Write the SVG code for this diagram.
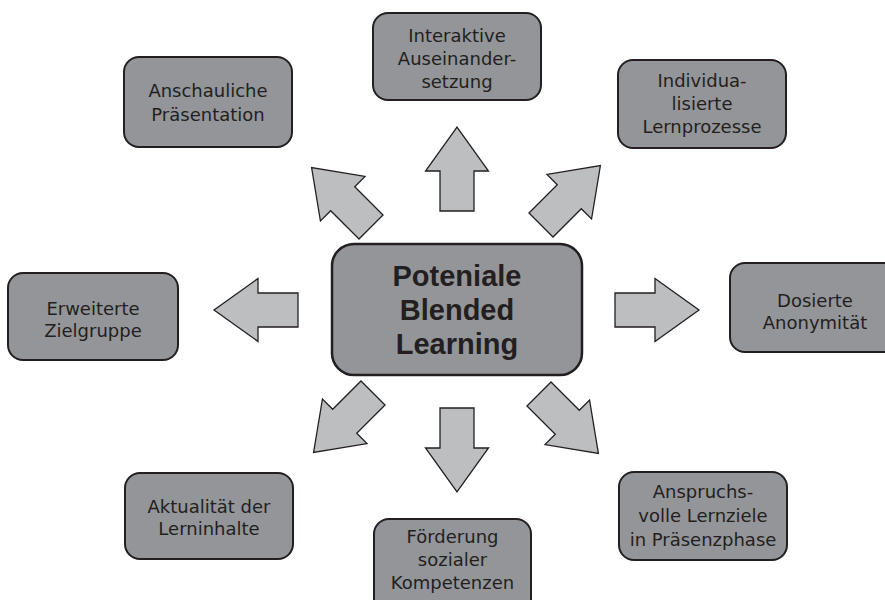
<svg xmlns="http://www.w3.org/2000/svg" width="885" height="600" viewBox="0 0 885 600">
<defs>
<style>
.box{fill:#939598;stroke:#231f20;stroke-width:2}
.arr{fill:#bcbec0;stroke:#231f20;stroke-width:1.3;stroke-linejoin:miter}
.t{font-family:"DejaVu Sans","Liberation Sans",sans-serif;font-size:18px;fill:#231f20;text-anchor:middle}
.c{font-family:"Liberation Sans",Arial,sans-serif;font-weight:bold;font-size:29px;fill:#231f20;text-anchor:middle}
</style>
<polygon id="a" points="0,-17 40,-17 40,-31.5 84,0 40,31.5 40,17 0,17"/>
</defs>
<rect width="885" height="600" fill="#ffffff"/>
<g id="connectors">
<use href="#a" class="arr" transform="translate(457,211) rotate(-90)"/>
<use href="#a" class="arr" transform="translate(457,408) rotate(90)"/>
<use href="#a" class="arr" transform="translate(298,310) rotate(180)"/>
<use href="#a" class="arr" transform="translate(615,310)"/>
<use href="#a" class="arr" transform="translate(371,227) rotate(-135)"/>
<use href="#a" class="arr" transform="translate(541,225) rotate(-45)"/>
<use href="#a" class="arr" transform="translate(373,393) rotate(135)"/>
<use href="#a" class="arr" transform="translate(539,394) rotate(45)"/>
</g>
<g id="center">
<rect class="box" x="332" y="244" width="250" height="131" rx="22" style="stroke-width:2.5"/>
<text class="c" x="457" y="286">Poteniale</text>
<text class="c" x="457" y="320">Blended</text>
<text class="c" x="457" y="354">Learning</text>
</g>
<g id="interaktive">
<rect class="box" x="373" y="13" width="168" height="87" rx="15"/>
<text class="t" x="457" y="42">Interaktive</text>
<text class="t" x="457" y="65">Auseinander-</text>
<text class="t" x="457" y="88">setzung</text>
</g>
<g id="anschauliche">
<rect class="box" x="124" y="57" width="168" height="90" rx="15"/>
<text class="t" x="208" y="97">Anschauliche</text>
<text class="t" x="208" y="121">Präsentation</text>
</g>
<g id="individua">
<rect class="box" x="618" y="60" width="168" height="88" rx="15"/>
<text class="t" x="702" y="87">Individua-</text>
<text class="t" x="702" y="110">lisierte</text>
<text class="t" x="702" y="133">Lernprozesse</text>
</g>
<g id="erweiterte">
<rect class="box" x="8" y="273" width="170" height="87" rx="15"/>
<text class="t" x="93" y="315">Erweiterte</text>
<text class="t" x="93" y="337">Zielgruppe</text>
</g>
<g id="dosierte">
<rect class="box" x="730" y="263" width="170" height="89" rx="15"/>
<text class="t" x="815" y="307">Dosierte</text>
<text class="t" x="815" y="329">Anonymität</text>
</g>
<g id="aktualitaet">
<rect class="box" x="125" y="473" width="168" height="86" rx="15"/>
<text class="t" x="209" y="513">Aktualität der</text>
<text class="t" x="209" y="535">Lerninhalte</text>
</g>
<g id="anspruchsvoll">
<rect class="box" x="619" y="472" width="168" height="88" rx="15"/>
<text class="t" x="703" y="498">Anspruchs-</text>
<text class="t" x="703" y="522">volle Lernziele</text>
<text class="t" x="703" y="546">in Präsenzphase</text>
</g>
<g id="foerderung">
<rect class="box" x="374" y="519" width="157" height="95" rx="15"/>
<text class="t" x="452.5" y="543">Förderung</text>
<text class="t" x="452.5" y="566">sozialer</text>
<text class="t" x="452.5" y="589">Kompetenzen</text>
</g>
</svg>
